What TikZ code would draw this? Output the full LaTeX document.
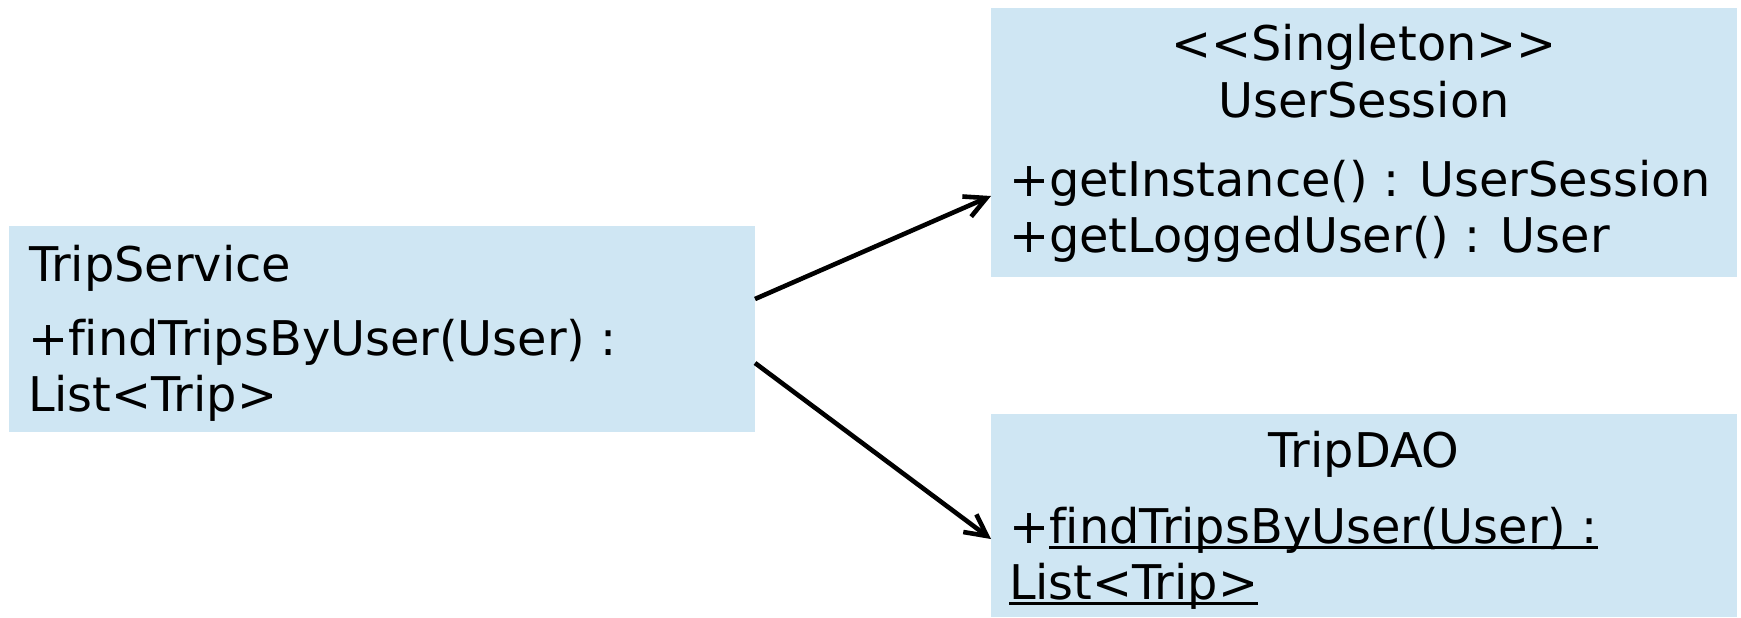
\documentclass[tikz,border=0pt]{standalone}
\usepackage{fontspec}
\setmainfont{DejaVu Sans}[Ligatures={NoCommon}]
\usetikzlibrary{arrows.meta,calc}
\definecolor{classfill}{RGB}{207,230,243}
\begin{document}
\begin{tikzpicture}[x=0.5pt,y=-0.5pt,
  classbox/.style={fill=classfill, draw=none, inner sep=0pt, outer sep=0pt, anchor=north west},
  txt/.style={inner sep=0pt, outer sep=0pt, font=\fontsize{23.9}{28}\selectfont},
  uline/.style={line width=1.4pt},
  link/.style={line width=2.3pt, -{Straight Barb[length=10.7pt,width=11pt,line width=2.3pt]}}]
\useasboundingbox (0,0) rectangle (1741,617);
% boxes
\node[classbox, minimum width=373pt, minimum height=103pt] (ts) at (9,226) {};
\node[classbox, minimum width=373pt, minimum height=134.5pt] (us) at (991,8) {};
\node[classbox, minimum width=373pt, minimum height=101.5pt] (td) at (991,414) {};
% TripService
\node[txt, anchor=base west] (tsname) at (29,281) {TripService};
\node[txt, anchor=base west] (tsop1) at (28,355) {+findTripsByUser(User) :};
\node[txt, anchor=base west] (tsop2) at (28,411) {List<Trip>};
% UserSession
\node[txt, anchor=base] (usst) at (1364,60) {<{}<Singleton>{}>};
\node[txt, anchor=base] (usname) at (1364,117) {UserSession};
\node[txt, anchor=base west] (usop1) at (1009,196) {+getInstance() : UserSession};
\node[txt, anchor=base west] (usop2) at (1009,252) {+getLoggedUser() : User};
% TripDAO
\node[txt, anchor=base] (tdname) at (1364,467) {TripDAO};
\node[txt, anchor=base west] (tdplus) at (1009,543) {+};
\node[txt, anchor=base west] (tdop1) at (tdplus.base east) {findTripsByUser(User) :};
\node[txt, anchor=base west] (tdop2) at (1009,599) {List<Trip>};
\draw[uline] ([yshift=-2.3pt]tdop1.base west) -- ([yshift=-2.3pt]tdop1.base east);
\draw[uline] ([yshift=-2.3pt]tdop2.base west) -- ([yshift=-2.3pt]tdop2.base east);
% connectors
\draw[link] ($(ts.north east)+(0,73)$) -- ($(us.north west)+(0,188)$);
\draw[link] ($(ts.north east)+(0,137)$) -- ($(td.north west)+(0,125)$);
\end{tikzpicture}
\end{document}
